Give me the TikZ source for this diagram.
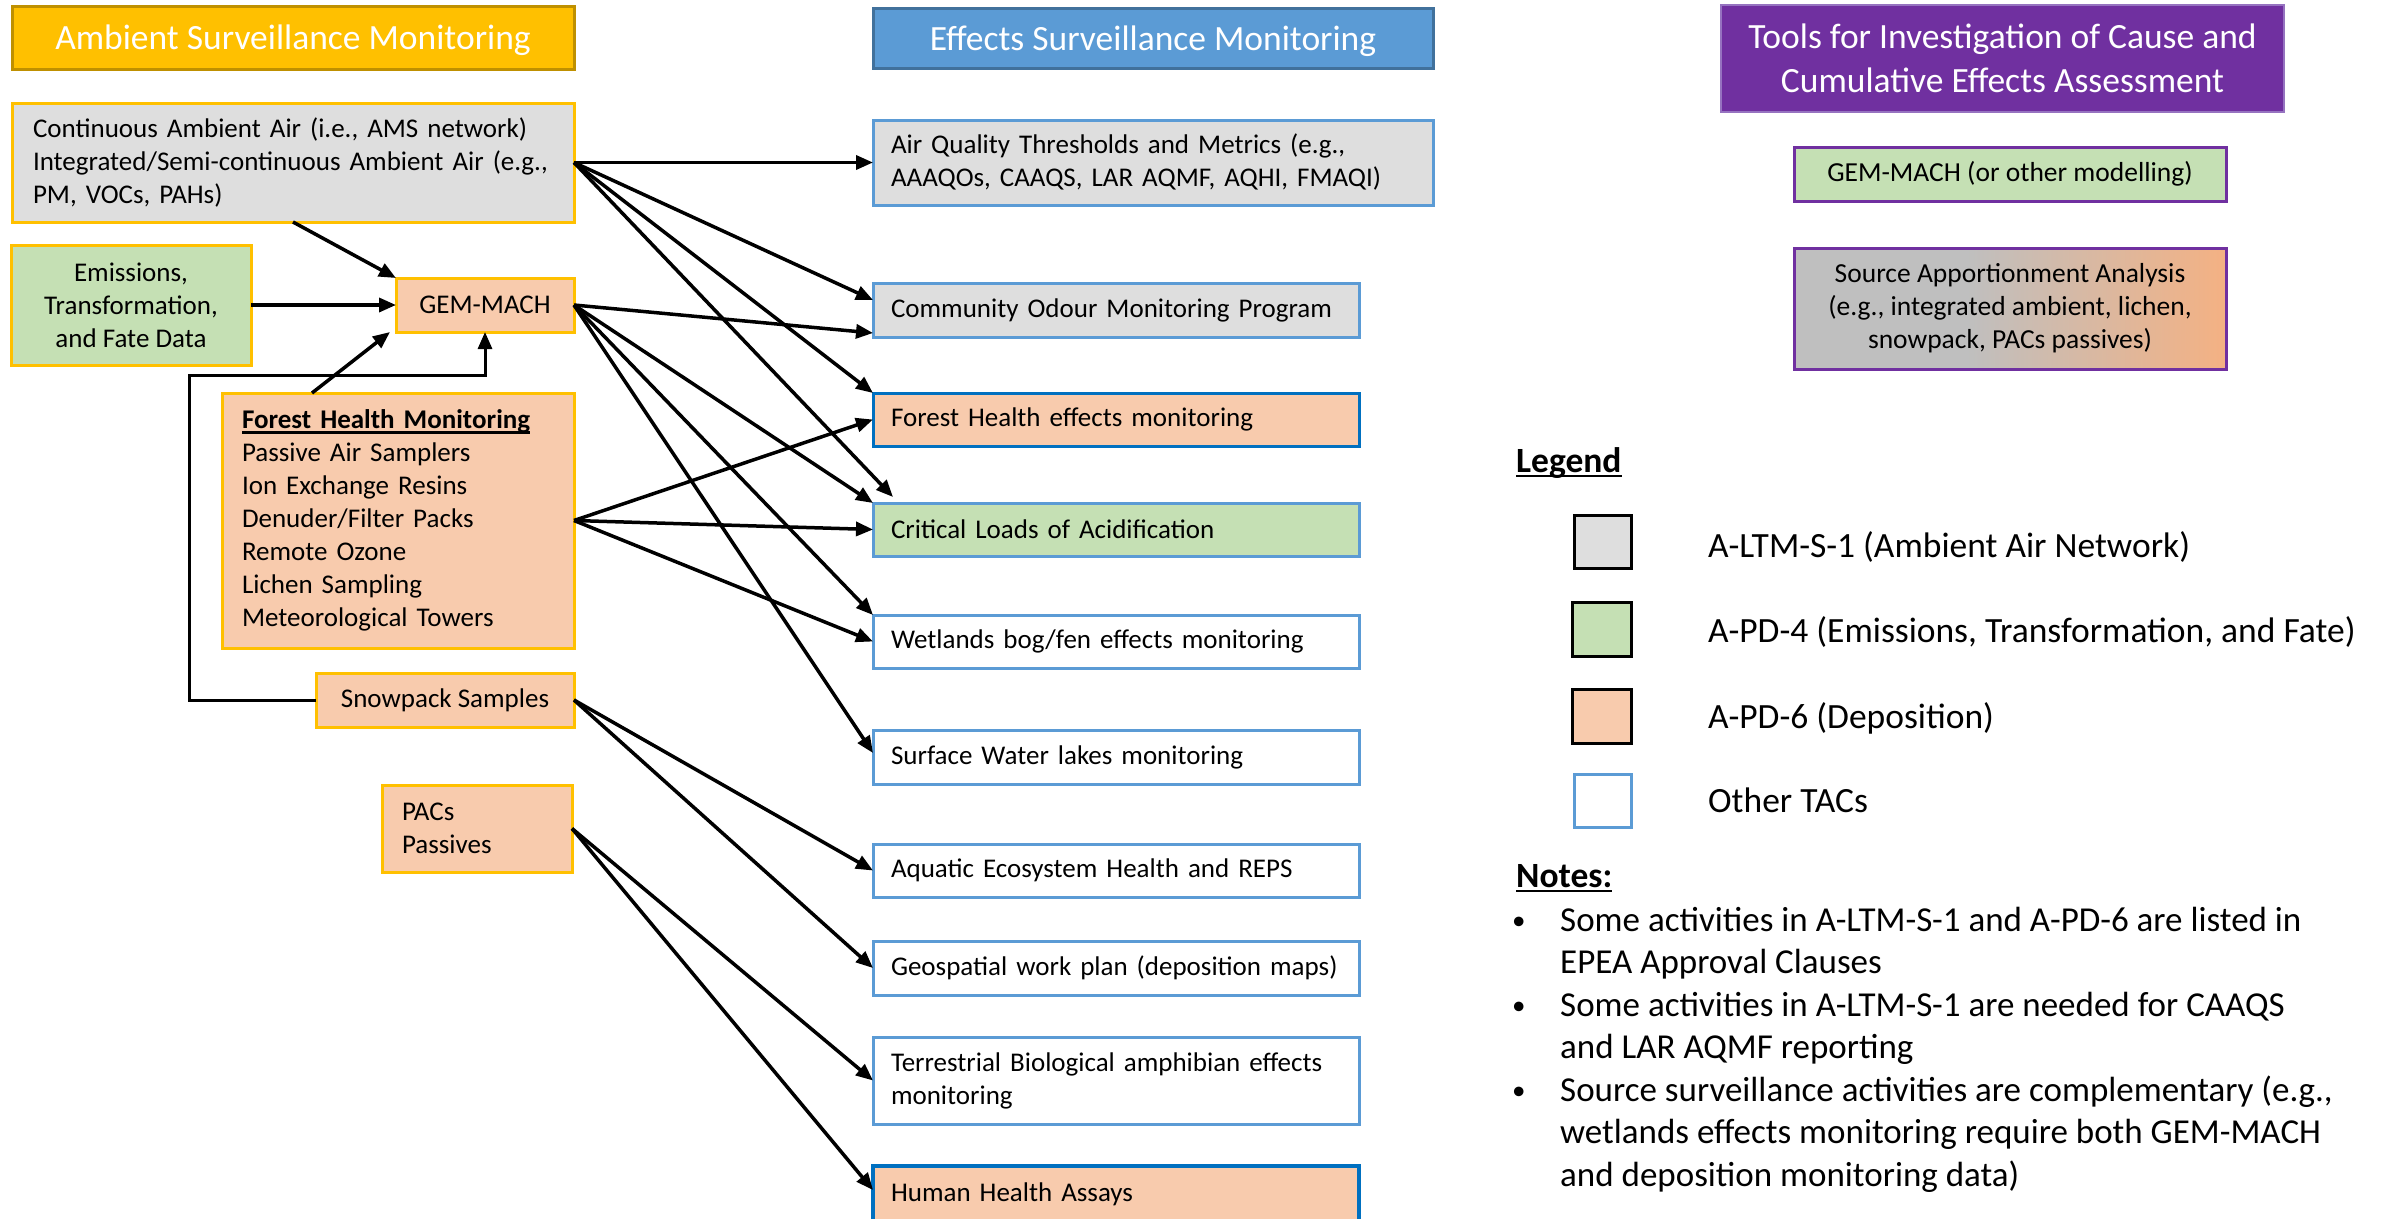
\documentclass[tikz,border=0pt]{standalone}
\usepackage{fontspec}
\setmainfont{Carlito}
\usetikzlibrary{arrows.meta}
\definecolor{gold}{HTML}{FFC000}
\definecolor{golddark}{HTML}{BF9000}
\definecolor{lgray}{HTML}{DEDEDE}
\definecolor{lgreen}{HTML}{C5E0B4}
\definecolor{peach}{HTML}{F8CBAD}
\definecolor{eblue}{HTML}{5B9BD5}
\definecolor{eblued}{HTML}{41719C}
\definecolor{dblue}{HTML}{0070C0}
\definecolor{purp}{HTML}{7030A0}
\definecolor{purpl}{HTML}{9673C0}
\definecolor{sagray}{HTML}{BFBFBF}
\definecolor{saorange}{HTML}{F4B183}
\pgfdeclarehorizontalshading{sashade}{100bp}{color(0bp)=(sagray); color(25bp)=(sagray); color(45bp)=(sagray); color(75bp)=(saorange); color(100bp)=(saorange)}
\newsavebox\ulbox
\newcommand\myul[1]{\sbox\ulbox{#1}\rlap{\rule[-5pt]{\wd\ulbox}{2.5pt}}\usebox\ulbox}
\tikzset{
 fbody/.style={font=\fontsize{27}{33}\selectfont},
 bx/.style={fbody, inner sep=0pt, outer sep=0pt, line width=3pt, anchor=north west},
 lbox/.style={bx, align=left, inner xsep=20pt},
 cbox/.style={bx, align=center},
 ttl/.style={bx, align=center, text=white, font=\fontsize{35.5}{44}\selectfont},
 abord/.style={draw=gold},
 effbox/.style={lbox, draw=eblue, inner xsep=18pt, text width=450pt, minimum height=54pt},
 tip/.style={-{Triangle[length=17pt,width=14pt]}},
 arr/.style={line width=3.5pt, tip},
 lnk/.style={line width=3pt},
 legbox/.style={bx, draw=black, minimum width=57pt, minimum height=53pt},
 legtxt/.style={inner sep=0pt, anchor=base west, font=\fontsize{35.5}{42}\selectfont},
 notetxt/.style={inner sep=0pt, anchor=base west, font=\fontsize{35}{42.5}\selectfont},
 bul/.style={inner sep=0pt, anchor=base west, font=\fontsize{27}{30}\selectfont},
 hdg/.style={inner sep=0pt, anchor=base west, font=\fontsize{35.5}{42}\selectfont\bfseries},
}
\begin{document}
\begin{tikzpicture}[x=1pt,y=1pt]
\useasboundingbox (0,0) rectangle (2381,-1218);
\fill[white] (0,0) rectangle (2381,-1218);
% titles
\node[ttl, text depth=0pt, fill=gold, draw=golddark, minimum width=562pt, minimum height=63pt] (tamb) at (12,-6) {Ambient Surveillance Monitoring};
\node[ttl, text depth=0pt, fill=eblue, draw=eblued, minimum width=560pt, minimum height=60pt] (teff) at (873,-8) {Effects Surveillance Monitoring};
\node[ttl, fill=purp, draw=purpl, line width=1.5pt, minimum width=563pt, minimum height=107pt] (ttool) at (1721,-5) {Tools for Investigation of Cause and\\Cumulative Effects Assessment};
% left column
\node[lbox, abord, fill=lgray, inner xsep=21pt, text width=520pt, minimum height=119pt] (cont) at (12,-103) {Continuous Ambient Air (i.e., AMS network)\\Integrated/Semi-continuous Ambient Air (e.g.,\\PM, VOCs, PAHs)};
\node[cbox, abord, fill=lgreen, minimum width=240pt, minimum height=120pt] (emis) at (11,-245) {Emissions,\\Transformation,\\and Fate Data};
\node[cbox, abord, fill=peach, minimum width=178pt, minimum height=54pt] (gem) at (396,-278) {GEM-MACH};
\node[lbox, abord, fill=peach, text width=312pt, minimum height=255pt] (forest) at (222,-393) {\myul{\textbf{Forest Health Monitoring}}\\Passive Air Samplers\\Ion Exchange Resins\\Denuder/Filter Packs\\Remote Ozone\\Lichen Sampling\\Meteorological Towers};
\node[cbox, abord, fill=peach, minimum width=258pt, minimum height=54pt] (snow) at (316,-673) {Snowpack Samples};
\node[lbox, abord, fill=peach, text width=150pt, minimum height=87pt] (pacs) at (382,-785) {PACs\\Passives};
% effects column
\node[effbox, fill=lgray, text width=524pt, minimum height=85pt] (aq) at (873,-120) {Air Quality Thresholds and Metrics (e.g.,\\AAAQOs, CAAQS, LAR AQMF, AQHI, FMAQI)};
\node[effbox, fill=lgray] (comm) at (873,-283) {Community Odour Monitoring Program};
\node[effbox, fill=peach, draw=dblue, minimum height=53pt] (fhe) at (873,-393) {Forest Health effects monitoring};
\node[effbox, fill=lgreen, minimum height=53pt] (cla) at (873,-503) {Critical Loads of Acidification};
\node[effbox, fill=white, minimum height=53pt] (wet) at (873,-615) {Wetlands bog/fen effects monitoring};
\node[effbox, fill=white] (sw) at (873,-730) {Surface Water lakes monitoring};
\node[effbox, fill=white, minimum height=53pt] (aqe) at (873,-844) {Aquatic Ecosystem Health and REPS};
\node[effbox, fill=white] (geo) at (873,-941) {Geospatial work plan (deposition maps)};
\node[effbox, fill=white, minimum height=87pt] (ter) at (873,-1037) {Terrestrial Biological amphibian effects\\monitoring};
\node[effbox, fill=peach, draw=dblue, line width=4pt, minimum height=56pt] (hh) at (873,-1166) {Human Health Assays};
% tools column
\node[cbox, draw=purp, fill=lgreen, minimum width=432pt, minimum height=54pt, font=\fontsize{27.5}{33}\selectfont] (gm2) at (1794,-147) {GEM-MACH (or other modelling)};
\node[cbox, draw=purp, shade, shading=sashade, minimum width=432pt, minimum height=121pt, font=\fontsize{27.5}{33}\selectfont] (sa) at (1794,-248) {Source Apportionment Analysis\\(e.g., integrated ambient, lichen,\\snowpack, PACs passives)};
% legend
\node[hdg] (leg) at (1516,-472) {\myul{Legend}};
\node[legbox, fill=lgray] (lb1) at (1574,-515) {};
\node[legbox, fill=lgreen, minimum width=59pt, minimum height=54pt] (lb2) at (1572,-602) {};
\node[legbox, fill=peach, minimum width=59pt, minimum height=54pt] (lb3) at (1572,-689) {};
\node[legbox, fill=white, draw=eblue] (lb4) at (1574,-774) {};
\node[legtxt] (lt1) at (1708,-557) {A-LTM-S-1 (Ambient Air Network)};
\node[legtxt] (lt2) at (1708,-642) {A-PD-4 (Emissions, Transformation, and Fate)};
\node[legtxt] (lt3) at (1708,-728) {A-PD-6 (Deposition)};
\node[legtxt] (lt4) at (1708,-812) {Other TACs};
% notes
\node[hdg] (nh) at (1516,-887) {\myul{Notes:}};
\node[bul] (b1) at (1512,-929) {•};
\node[bul] (b2) at (1512,-1014) {•};
\node[bul] (b3) at (1512,-1099) {•};
\node[notetxt] (n1) at (1560,-931) {Some activities in A-LTM-S-1 and A-PD-6 are listed in};
\node[notetxt] (n2) at (1560,-973.5) {EPEA Approval Clauses};
\node[notetxt] (n3) at (1560,-1016) {Some activities in A-LTM-S-1 are needed for CAAQS};
\node[notetxt] (n4) at (1560,-1058.5) {and LAR AQMF reporting};
\node[notetxt] (n5) at (1560,-1101) {Source surveillance activities are complementary (e.g.,};
\node[notetxt] (n6) at (1560,-1143.5) {wetlands effects monitoring require both GEM-MACH};
\node[notetxt] (n7) at (1560,-1186) {and deposition monitoring data)};
% connectors
\coordinate (bend) at (189,-375);
\draw[arr] (cont.east) -- (aq.west);
\draw[arr] (cont.east) -- ([yshift=10pt]comm.west);
\draw[arr] (cont.east) -- (fhe.north west);
\draw[arr] (cont.east) -- ([xshift=20pt,yshift=6pt]cla.north west);
\draw[arr] (gem.east) -- ([yshift=-23pt]comm.west);
\draw[arr] (gem.east) -- (cla.north west);
\draw[arr] (gem.east) -- (wet.north west);
\draw[arr] (gem.east) -- ([yshift=4pt]sw.west);
\draw[arr] (forest.east) -- (fhe.west);
\draw[arr] (forest.east) -- (cla.west);
\draw[arr] (forest.east) -- (wet.west);
\draw[arr] (snow.east) -- (aqe.west);
\draw[arr] (snow.east) -- (geo.west);
\draw[arr] (pacs.east) -- (ter.west);
\draw[arr] (pacs.east) -- ([yshift=4pt]hh.west);
\draw[arr] (cont.south) -- (gem.north west);
\draw[arr] (emis.east) -- (gem.west);
\draw[arr] ([xshift=-86pt]forest.north) -- ([xshift=-6pt]gem.south west);
\draw[lnk, tip] (snow.west) -| (bend) -| (gem.south);
\end{tikzpicture}
\end{document}
